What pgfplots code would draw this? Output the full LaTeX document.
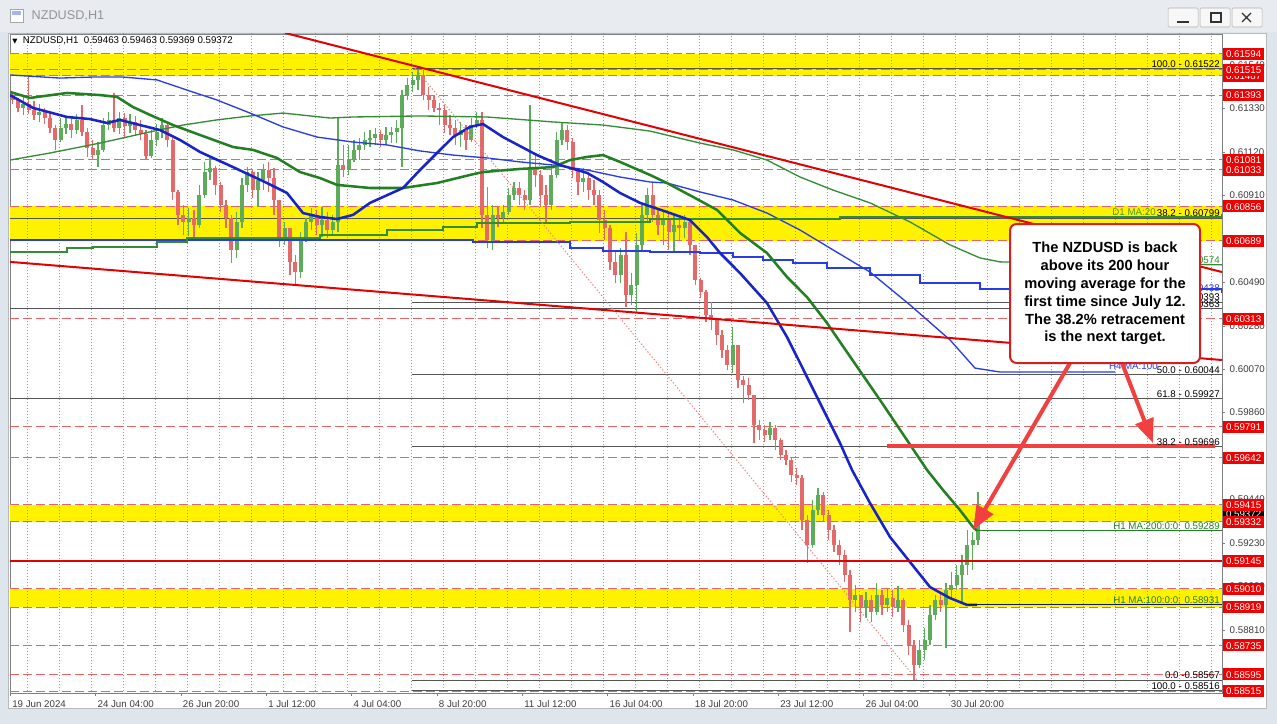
\documentclass[border=0pt]{standalone}
\usepackage{fontspec}
\setmainfont{Liberation Sans}
\newfontfamily\dejavu{DejaVu Sans}
\usepackage{pgfplots}
\pgfplotsset{compat=1.18}
\usepackage{pgfplotstable}
\usetikzlibrary{arrows.meta}

\definecolor{upc}{RGB}{92,172,92}
\definecolor{dnc}{RGB}{228,106,106}
\definecolor{dashc}{RGB}{232,100,100}
\definecolor{tred}{RGB}{226,0,0}
\definecolor{arr}{RGB}{240,64,64}
\definecolor{boxred}{RGB}{214,30,30}
\definecolor{mablue}{RGB}{24,36,200}
\definecolor{thinblue}{RGB}{40,60,230}
\definecolor{magreen}{RGB}{34,128,34}
\definecolor{thingreen}{RGB}{52,140,52}
\definecolor{fibc}{RGB}{85,85,85}
\definecolor{gridc}{RGB}{150,150,150}
\definecolor{axisc}{RGB}{128,128,128}
\definecolor{tickc}{RGB}{60,60,60}
\definecolor{labred}{RGB}{240,0,0}
\definecolor{winbg}{RGB}{222,229,237}
\definecolor{titlebg}{RGB}{232,236,241}
\newcommand\labfont{\fontsize{7.3}{8.5}\selectfont}

% NZDUSD H1, grouped by 4 bars: bar index, open, high, low, close
\pgfplotstableread{
x o h l c
2 0.61385 0.61409 0.61351 0.61370
6 0.61370 0.61380 0.61312 0.61331
10 0.61331 0.61389 0.61298 0.61351
14 0.61351 0.61481 0.61302 0.61322
18 0.61322 0.61365 0.61273 0.61298
22 0.61298 0.61351 0.61264 0.61312
26 0.61312 0.61331 0.61254 0.61283
30 0.61283 0.61312 0.61211 0.61235
34 0.61235 0.61249 0.61128 0.61177
38 0.61177 0.61283 0.61167 0.61235
42 0.61235 0.61288 0.61206 0.61254
46 0.61254 0.61283 0.61186 0.61225
50 0.61225 0.61302 0.61206 0.61273
54 0.61273 0.61346 0.61196 0.61215
58 0.61215 0.61235 0.61095 0.61138
62 0.61138 0.61177 0.61080 0.61104
66 0.61104 0.61167 0.61046 0.61128
70 0.61128 0.61283 0.61119 0.61249
74 0.61249 0.61312 0.61225 0.61273
78 0.61273 0.61404 0.61215 0.61235
82 0.61235 0.61312 0.61206 0.61283
86 0.61283 0.61307 0.61191 0.61244
90 0.61244 0.61302 0.61211 0.61264
94 0.61264 0.61293 0.61196 0.61225
98 0.61225 0.61273 0.61177 0.61206
102 0.61206 0.61225 0.61080 0.61099
106 0.61099 0.61225 0.61090 0.61177
110 0.61177 0.61254 0.61148 0.61215
114 0.61215 0.61283 0.61186 0.61249
118 0.61249 0.61264 0.61143 0.61177
122 0.61177 0.61186 0.60887 0.60926
126 0.60926 0.60935 0.60766 0.60815
130 0.60815 0.60863 0.60718 0.60781
134 0.60781 0.60848 0.60713 0.60800
138 0.60800 0.60839 0.60694 0.60766
142 0.60766 0.60959 0.60752 0.60911
146 0.60911 0.61070 0.60897 0.61022
150 0.61022 0.61090 0.60984 0.61042
154 0.61042 0.61051 0.60911 0.60959
158 0.60959 0.60974 0.60829 0.60863
162 0.60863 0.60887 0.60752 0.60800
166 0.60800 0.60815 0.60583 0.60646
170 0.60646 0.60829 0.60607 0.60781
174 0.60781 0.60993 0.60752 0.60959
178 0.60959 0.61046 0.60926 0.61022
182 0.61022 0.61032 0.60897 0.60935
186 0.60935 0.61022 0.60853 0.60984
190 0.60984 0.61061 0.60935 0.61032
194 0.61032 0.61070 0.60926 0.60993
198 0.60993 0.61042 0.60815 0.60887
202 0.60887 0.60887 0.60660 0.60703
206 0.60703 0.60781 0.60670 0.60752
210 0.60752 0.60752 0.60525 0.60588
214 0.60588 0.60621 0.60476 0.60539
218 0.60539 0.60732 0.60510 0.60694
222 0.60694 0.60800 0.60684 0.60781
226 0.60781 0.60848 0.60742 0.60815
230 0.60815 0.60839 0.60718 0.60766
234 0.60766 0.60853 0.60708 0.60790
238 0.60790 0.60829 0.60703 0.60742
242 0.60742 0.60815 0.60713 0.60781
246 0.60781 0.61288 0.60732 0.61056
250 0.61056 0.61153 0.60998 0.61032
254 0.61032 0.61153 0.61008 0.61080
258 0.61080 0.61177 0.61070 0.61128
262 0.61128 0.61186 0.61080 0.61153
266 0.61153 0.61215 0.61128 0.61177
270 0.61177 0.61225 0.61143 0.61186
274 0.61186 0.61235 0.61153 0.61206
278 0.61206 0.61225 0.61143 0.61177
282 0.61177 0.61240 0.61157 0.61201
286 0.61201 0.61240 0.61162 0.61215
290 0.61215 0.61273 0.61162 0.61235
294 0.61235 0.61418 0.61046 0.61394
298 0.61394 0.61476 0.61370 0.61442
302 0.61442 0.61505 0.61409 0.61467
306 0.61467 0.61522 0.61418 0.61491
310 0.61491 0.61515 0.61370 0.61394
314 0.61394 0.61433 0.61322 0.61370
318 0.61370 0.61394 0.61312 0.61331
322 0.61331 0.61356 0.61249 0.61322
326 0.61322 0.61346 0.61211 0.61249
330 0.61249 0.61298 0.61201 0.61235
334 0.61235 0.61273 0.61153 0.61201
338 0.61201 0.61264 0.61143 0.61225
342 0.61225 0.61249 0.61128 0.61177
346 0.61177 0.61283 0.61167 0.61249
350 0.61249 0.61312 0.61235 0.61273
354 0.61273 0.61312 0.60752 0.60815
358 0.60815 0.60950 0.60655 0.60694
362 0.60694 0.60863 0.60646 0.60815
366 0.60815 0.60853 0.60757 0.60800
370 0.60800 0.60863 0.60771 0.60829
374 0.60829 0.60945 0.60815 0.60911
378 0.60911 0.60974 0.60887 0.60945
382 0.60945 0.60974 0.60863 0.60911
386 0.60911 0.60935 0.60839 0.60887
390 0.60887 0.61346 0.60863 0.61042
394 0.61042 0.61114 0.60950 0.61008
398 0.61008 0.61032 0.60853 0.60911
402 0.60911 0.60959 0.60776 0.60863
406 0.60863 0.61056 0.60839 0.61008
410 0.61008 0.61215 0.60993 0.61177
414 0.61177 0.61264 0.61153 0.61225
418 0.61225 0.61249 0.61128 0.61167
422 0.61167 0.61186 0.60993 0.61032
426 0.61032 0.61042 0.60911 0.60974
430 0.60974 0.61042 0.60926 0.60993
434 0.60993 0.61022 0.60887 0.60935
438 0.60935 0.60984 0.60863 0.60911
442 0.60911 0.60935 0.60728 0.60790
446 0.60790 0.60839 0.60694 0.60752
450 0.60752 0.60766 0.60549 0.60588
454 0.60588 0.60646 0.60486 0.60525
458 0.60525 0.60655 0.60486 0.60621
462 0.60621 0.60732 0.60370 0.60428
466 0.60428 0.60534 0.60380 0.60476
470 0.60476 0.60728 0.60341 0.60670
474 0.60670 0.60863 0.60646 0.60815
478 0.60815 0.60945 0.60781 0.60911
482 0.60911 0.60969 0.60781 0.60815
486 0.60815 0.60848 0.60718 0.60766
490 0.60766 0.60839 0.60670 0.60790
494 0.60790 0.60829 0.60646 0.60732
498 0.60732 0.60815 0.60636 0.60766
502 0.60766 0.60805 0.60694 0.60752
506 0.60752 0.60815 0.60703 0.60781
510 0.60781 0.60800 0.60621 0.60670
514 0.60670 0.60670 0.60476 0.60501
518 0.60501 0.60510 0.60414 0.60443
522 0.60443 0.60452 0.60298 0.60332
526 0.60332 0.60394 0.60259 0.60307
530 0.60307 0.60317 0.60187 0.60235
534 0.60235 0.60259 0.60124 0.60162
538 0.60162 0.60187 0.60066 0.60090
542 0.60090 0.60274 0.60051 0.60187
546 0.60187 0.60187 0.59979 0.60018
550 0.60018 0.60037 0.59906 0.59993
554 0.59993 0.60027 0.59921 0.59945
558 0.59945 0.59945 0.59713 0.59800
562 0.59800 0.59824 0.59728 0.59776
566 0.59776 0.59800 0.59718 0.59752
570 0.59752 0.59815 0.59728 0.59786
574 0.59786 0.59800 0.59680 0.59728
578 0.59728 0.59737 0.59631 0.59655
582 0.59655 0.59680 0.59607 0.59631
586 0.59631 0.59641 0.59525 0.59559
590 0.59559 0.59593 0.59510 0.59544
594 0.59544 0.59559 0.59293 0.59341
598 0.59341 0.59366 0.59134 0.59221
602 0.59221 0.59438 0.59206 0.59390
606 0.59390 0.59496 0.59366 0.59462
610 0.59462 0.59477 0.59332 0.59366
614 0.59366 0.59390 0.59245 0.59293
618 0.59293 0.59317 0.59187 0.59221
622 0.59221 0.59245 0.59124 0.59172
626 0.59172 0.59197 0.59042 0.59076
630 0.59076 0.59100 0.58800 0.58955
634 0.58955 0.59027 0.58897 0.58979
638 0.58979 0.58979 0.58849 0.58916
642 0.58916 0.58994 0.58868 0.58955
646 0.58955 0.58979 0.58849 0.58897
650 0.58897 0.59037 0.58883 0.58979
654 0.58979 0.59003 0.58883 0.58931
658 0.58931 0.59013 0.58897 0.58965
662 0.58965 0.59003 0.58873 0.58921
666 0.58921 0.59023 0.58897 0.58955
670 0.58955 0.58965 0.58800 0.58834
674 0.58834 0.58858 0.58689 0.58738
678 0.58738 0.58762 0.58567 0.58641
682 0.58641 0.58762 0.58627 0.58714
686 0.58714 0.58820 0.58665 0.58762
690 0.58762 0.58931 0.58738 0.58883
694 0.58883 0.58979 0.58858 0.58955
698 0.58955 0.58989 0.58897 0.58931
702 0.58931 0.59037 0.58723 0.59003
706 0.59003 0.59090 0.58955 0.59027
710 0.59027 0.59124 0.59003 0.59076
714 0.59076 0.59172 0.58941 0.59124
718 0.59124 0.59293 0.59076 0.59221
722 0.59221 0.59283 0.59100 0.59245
726 0.59245 0.59477 0.59221 0.59372
}\candles

\pgfplotsset{
  chartbox/.style={
    at={(7.5pt,-519.75pt)}, anchor=south west,
    scale only axis, width=909pt, height=494.25pt,
    xmin=0, xmax=909, ymin=0.585054, ymax=0.616889,
  },
  candle/.style 2 args={draw=none, mark=none, forget plot,
    error bars/y dir=plus, error bars/y explicit, error bars/error mark=none,
    error bars/error bar style={draw=#1, line width=#2}},
}
\tikzset{
  tl/.style={font=\labfont, anchor=south east, inner sep=0.8pt, xshift=-0.75pt},
  pl/.style={fill=labred, text=white, font=\labfont, anchor=west, inner xsep=2.2pt,
    inner ysep=0pt, minimum height=9pt, text height=5.4pt, text depth=0pt, xshift=0.6pt},
}

\begin{document}
\begin{tikzpicture}
% window frame
\begin{scope}[x=0.75pt,y=-0.75pt]
\path[use as bounding box] (0,0) rectangle (1277,724);
\fill[winbg] (0,0) rectangle (1277,724);
\fill[titlebg] (0,0) rectangle (1277,32);
\draw[gray!70, fill=white] (10,9) rectangle (23,22);
\fill[thinblue!40] (12,11) rectangle (21,15);
\node[anchor=west, text=gray!85, font=\fontsize{9.5}{11}\selectfont] at (27,16) {NZDUSD,H1};
\foreach \bx in {1168,1200,1232}
  \draw[gray!60, fill=white!94!gray, rounded corners=1pt] (\bx,8) rectangle ++(30,19);
\draw[line width=1.2pt, gray!40!black] (1177,22) -- (1189,22);
\draw[line width=0.8pt, gray!40!black] (1211,13) rectangle (1221,22);
\draw[line width=1pt, gray!40!black] (1242,13) -- (1251,22) (1251,13) -- (1242,22);
\fill[white] (8,33) rectangle (1266,708);
\draw[gray!55] (8,33) rectangle (1266,708);
\end{scope}

\begin{axis}[chartbox,
  axis line style={draw=axisc},
  tick style={draw=axisc},
  tick align=outside, major tick length=2.25pt,
  xtick pos=left, ytick pos=right, yticklabel pos=right,
  xtick={0,64,128,192,256,320,384,448,512,576,640,704},
  xticklabels={19 Jun 2024,24 Jun 04:00,26 Jun 20:00,1 Jul 12:00,4 Jul 04:00,8 Jul 20:00,11 Jul 12:00,16 Jul 04:00,18 Jul 20:00,23 Jul 12:00,26 Jul 04:00,30 Jul 20:00},
  xticklabel style={anchor=north west, font=\labfont, text=tickc, inner xsep=1.5pt},
  ytick={0.58810,0.59020,0.59230,0.59440,0.59860,0.60070,0.60280,0.60490,0.60910,0.61120,0.61330,0.61540},
  yticklabel style={font=\labfont, text=tickc, /pgf/number format/fixed, /pgf/number format/fixed zerofill, /pgf/number format/precision=5},
  /pgf/number format/assume math mode=true,
  scaled y ticks=false,
]
% yellow zones
\addplot[fill=yellow, draw=none] coordinates {(0,0.61594) (909,0.61594) (909,0.61487) (0,0.61487)} -- cycle;
\addplot[fill=yellow, draw=none] coordinates {(0,0.60856) (909,0.60856) (909,0.60689) (0,0.60689)} -- cycle;
\addplot[fill=yellow, draw=none] coordinates {(0,0.59415) (909,0.59415) (909,0.59332) (0,0.59332)} -- cycle;
\addplot[fill=yellow, draw=none] coordinates {(0,0.59010) (909,0.59010) (909,0.58919) (0,0.58919)} -- cycle;
% day separators
\pgfplotsinvokeforeach{13.3,37.3,...,901.3}{
  \addplot[gridc, line width=0.75pt, dash pattern=on 0.75pt off 1.5pt] coordinates {(#1,0.5850) (#1,0.6170)};
}
% horizontal levels
\pgfplotsinvokeforeach{0.61594,0.61515,0.61487,0.61393,0.61081,0.61033,0.60856,0.60689,0.60313,0.59791,0.59642,0.59415,0.59332,0.59010,0.58919,0.58735,0.58595,0.58515}{
  \addplot[dashc, line width=0.75pt, dash pattern=on 6.75pt off 3pt] coordinates {(0,#1) (909,#1)};
}
\pgfplotsinvokeforeach{0.61522,0.60393,0.60044,0.59696,0.58567,0.58516}{
  \addplot[fibc, line width=0.75pt] coordinates {(301.5,#1) (909,#1)};
}
\pgfplotsinvokeforeach{0.60799,0.60363,0.59927}{
  \addplot[fibc, line width=0.75pt] coordinates {(0,#1) (909,#1)};
}
% candles: wicks
\addplot[restrict expr to domain={\thisrow{c}-\thisrow{o}}{0:1}, candle={upc}{0.8pt}]
  table[x=x, y=l, y error expr=\thisrow{h}-\thisrow{l}] {\candles};
\addplot[restrict expr to domain={\thisrow{c}-\thisrow{o}}{-1:0}, candle={dnc}{0.8pt}]
  table[x=x, y=l, y error expr=\thisrow{h}-\thisrow{l}] {\candles};
% candles: bodies
\addplot[restrict expr to domain={\thisrow{c}-\thisrow{o}}{0:1}, candle={upc}{2.8pt}]
  table[x=x, y=o, y error expr=\thisrow{c}-\thisrow{o}] {\candles};
\addplot[restrict expr to domain={\thisrow{c}-\thisrow{o}}{-1:0}, candle={dnc}{2.8pt}]
  table[x=x, y=c, y error expr=\thisrow{o}-\thisrow{c}] {\candles};
% moving averages
\addplot[thingreen, line width=1pt] coordinates {(0,0.61080) (30,0.61114) (67.5,0.61162) (105,0.61216) (129.75,0.61249) (155.25,0.61274) (180,0.61293) (204.75,0.61307) (240,0.61283) (257.25,0.61288) (307.5,0.61293) (357.75,0.61288) (407.25,0.61264) (444.75,0.61249) (480,0.61220) (517.5,0.61162) (542.25,0.61129) (567.75,0.61080) (592.5,0.60998) (617.25,0.60935) (645,0.60873) (675,0.60781) (705,0.60670) (727.5,0.60607) (742.5,0.60588) (909,0.60574)};
\addplot[thinblue, line width=1pt] coordinates {(0,0.61491) (37.5,0.61476) (62.25,0.61481) (84.75,0.61481) (110.25,0.61467) (132.75,0.61418) (155.25,0.61370) (180,0.61307) (204.75,0.61240) (230.25,0.61191) (257.25,0.61167) (282.75,0.61153) (307.5,0.61124) (332.25,0.61104) (357.75,0.61090) (382.5,0.61071) (407.25,0.61056) (432.75,0.61032) (457.5,0.60998) (480,0.60974) (492.75,0.60969) (517.5,0.60926) (542.25,0.60887) (567.75,0.60824) (592.5,0.60742) (617.25,0.60646) (645,0.60539) (675,0.60380) (705,0.60211) (723.75,0.60075) (742.5,0.60056) (828.75,0.60056)};
\addplot[thinblue, line width=1pt, const plot] coordinates {(0,0.60694) (240,0.60694) (347.25,0.60684) (420,0.60655) (444.75,0.60641) (480,0.60636) (517.5,0.60631) (542.25,0.60612) (564.75,0.60597) (587.25,0.60583) (612.75,0.60559) (645,0.60525) (682.5,0.60486) (727.5,0.60457) (909,0.60440)};
\addplot[thingreen, line width=1pt, const plot] coordinates {(0,0.60636) (42.75,0.60655) (62.25,0.60660) (110.25,0.60684) (132.75,0.60703) (232.5,0.60718) (282.75,0.60742) (324.75,0.60757) (350.25,0.60776) (420,0.60781) (480,0.60795) (622.5,0.60805) (909,0.60819)};
\addplot[magreen, line width=1.9pt, line join=round] coordinates {(0,0.61409) (15,0.61380) (42.75,0.61404) (67.5,0.61394) (80.25,0.61385) (92.25,0.61336) (105,0.61298) (122.25,0.61249) (142.5,0.61201) (167.25,0.61143) (182.25,0.61129) (200.25,0.61090) (217.5,0.61022) (232.5,0.60993) (245.25,0.60960) (270,0.60945) (294.75,0.60945) (320.25,0.60969) (345,0.61008) (354.75,0.61022) (382.5,0.61037) (407.25,0.61046) (420,0.61080) (432.75,0.61095) (444.75,0.61104) (457.5,0.61071) (480,0.61008) (492.75,0.60969) (512.25,0.60902) (530.25,0.60839) (547.5,0.60728) (567.75,0.60631) (582.75,0.60515) (597.75,0.60418) (612.75,0.60293) (622.5,0.60201) (652.5,0.59921) (687.75,0.59583) (699.75,0.59486) (712.5,0.59389) (722.25,0.59307) (725.25,0.59289)};
\addplot[magreen, line width=0.8pt] coordinates {(725.25,0.59289) (909,0.59289)};
\addplot[mablue, line width=1.9pt, line join=round] coordinates {(0,0.61394) (17.25,0.61332) (42.75,0.61288) (60,0.61278) (72.75,0.61259) (82.5,0.61274) (97.5,0.61249) (112.5,0.61225) (127.5,0.61177) (142.5,0.61119) (167.25,0.61046) (192.75,0.60969) (207.75,0.60921) (219.75,0.60824) (232.5,0.60805) (245.25,0.60795) (257.25,0.60815) (270,0.60873) (294.75,0.60945) (307.5,0.61032) (320.25,0.61114) (332.25,0.61191) (345,0.61240) (354.75,0.61254) (369.75,0.61191) (395.25,0.61104) (412.5,0.61056) (432.75,0.61018) (444.75,0.60974) (457.5,0.60921) (472.5,0.60873) (492.75,0.60829) (510,0.60790) (522.75,0.60708) (532.5,0.60631) (547.5,0.60534) (567.75,0.60389) (582.75,0.60225) (592.5,0.60100) (607.5,0.59906) (622.5,0.59713) (631.5,0.59583) (645,0.59423) (660,0.59259) (675,0.59138) (690,0.59017) (705,0.58964) (717.75,0.58931) (725.25,0.58931)};
\addplot[mablue!60!black, line width=0.8pt] coordinates {(717.75,0.58931) (909,0.58931)};
% trend lines
\addplot[tred, line width=1.5pt] coordinates {(206.25,0.61694) (909,0.60539)};
\addplot[tred, line width=1.5pt] coordinates {(0,0.60588) (909,0.60114)};
\addplot[dashc!80, line width=0.75pt, dash pattern=on 1pt off 1.5pt] coordinates {(303.75,0.61525) (680.25,0.58568)};
\addplot[tred, line width=1.5pt] coordinates {(0,0.59145) (909,0.59145)};
\end{axis}

\begin{axis}[chartbox, hide axis, clip=false]
\addplot[arr, line width=3pt] coordinates {(657.75,0.59698) (903.75,0.59698)};
% object labels
\node[tl] at (axis cs:909,0.61522) {100.0 - 0.61522};
\node[tl] at (axis cs:909,0.60799) {38.2 - 0.60799};
\node[tl, text=magreen!80!yellow, xshift=0pt] at (axis cs:861,0.60805) {D1 MA:20};
\node[tl, text=thingreen] at (axis cs:909,0.60574) {H4 MA:200:0:0: 0.60574};
\node[tl, text=thinblue] at (axis cs:909,0.60440) {D1 MA:50:0:0: 0.60438};
\node[tl] at (axis cs:909,0.60393) {23.6 - 0.60393};
\node[tl] at (axis cs:909,0.60363) {76.4 - 0.60363};
\node[tl, text=thinblue, xshift=0pt] at (axis cs:862.5,0.60060) {H4 MA:100};
\node[tl] at (axis cs:909,0.60044) {50.0 - 0.60044};
\node[tl] at (axis cs:909,0.59927) {61.8 - 0.59927};
\node[tl] at (axis cs:909,0.59696) {38.2 - 0.59696};
\node[tl, text=magreen] at (axis cs:909,0.59289) {H1 MA:200:0:0: 0.59289};
\node[tl, text=magreen] at (axis cs:909,0.58931) {H1 MA:100:0:0: 0.58931};
\node[tl] at (axis cs:909,0.58567) {0.0 -0.58567};
\node[tl] at (axis cs:909,0.58516) {100.0 - 0.58516};
% comment box and arrows
\draw[-{Triangle[length=18pt,width=14pt]}, arr, line width=3pt] (axis cs:795,0.60100) -- (axis cs:722.25,0.59293);
\draw[-{Triangle[length=18pt,width=14pt]}, arr, line width=3pt] (axis cs:834,0.60100) -- (axis cs:857.25,0.59713);
\node[draw=boxred, line width=1.5pt, fill=white, rounded corners=5pt, minimum width=142.5pt,
  minimum height=104.25pt, inner sep=0pt, align=center,
  font=\bfseries\fontsize{11}{13.4}\selectfont] at (axis cs:821.25,0.604353)
  {The NZDUSD is back\\above its 200 hour\\moving average for the\\first time since July 12.\\The 38.2\% retracement\\is the next target.};
% price scale labels
\node[pl] at (axis cs:909,0.61594) {0.61594};
\node[pl] at (axis cs:909,0.61487) {0.61487};
\node[pl] at (axis cs:909,0.61515) {0.61515};
\node[pl] at (axis cs:909,0.61393) {0.61393};
\node[pl] at (axis cs:909,0.61081) {0.61081};
\node[pl] at (axis cs:909,0.61033) {0.61033};
\node[pl] at (axis cs:909,0.60856) {0.60856};
\node[pl] at (axis cs:909,0.60689) {0.60689};
\node[pl] at (axis cs:909,0.60313) {0.60313};
\node[pl] at (axis cs:909,0.59791) {0.59791};
\node[pl] at (axis cs:909,0.59642) {0.59642};
\node[pl, fill=black] at (axis cs:909,0.59372) {0.59372};
\node[pl] at (axis cs:909,0.59415) {0.59415};
\node[pl] at (axis cs:909,0.59332) {0.59332};
\node[pl] at (axis cs:909,0.59145) {0.59145};
\node[pl] at (axis cs:909,0.59010) {0.59010};
\node[pl] at (axis cs:909,0.58919) {0.58919};
\node[pl] at (axis cs:909,0.58735) {0.58735};
\node[pl] at (axis cs:909,0.58595) {0.58595};
\node[pl] at (axis cs:909,0.58515) {0.58515};
\end{axis}

\begin{scope}[x=0.75pt,y=-0.75pt]
\node[anchor=west, font=\labfont, inner sep=0pt] at (12,41)
  {{\dejavu\fontsize{5}{6}\selectfont ▼}\ \ NZDUSD,H1\ \ 0.59463 0.59463 0.59369 0.59372};
\end{scope}
\end{tikzpicture}
\end{document}
